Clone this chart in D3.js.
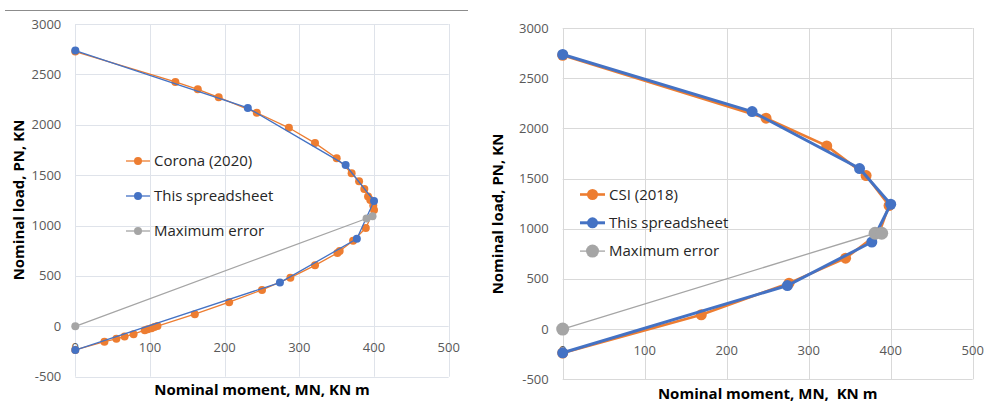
<!DOCTYPE html>
<html>
<head>
<meta charset="utf-8">
<script src="https://cdn.jsdelivr.net/npm/d3@7"></script>
<style>
  body { margin: 0; background: #fff; }
  svg { display: block; }
</style>
</head>
<body>
<div id="chart"></div>
<script>
/* Interaction diagrams — two scatter-with-lines panels (Excel style). */

var xTicks = [0, 100, 200, 300, 400, 500];
var yTicks = [-500, 0, 500, 1000, 1500, 2000, 2500, 3000];

// left panel: [moment, load]
var coronaM = [0, 134, 164, 192, 243, 286, 321, 350, 370, 380, 387, 392, 395, 399, 400, 389, 372, 354, 351, 321, 288, 250, 206, 160, 110, 106, 102, 97, 93, 78, 66, 55, 39, 0];
var coronaP = [2726, 2425, 2352, 2272, 2119, 1970, 1818, 1668, 1518, 1440, 1362, 1287, 1254, 1200, 1155, 975, 850, 748, 728, 605, 483, 361, 240, 120, 2, -8, -18, -28, -38, -78, -102, -124, -152, -235];
var sheetM = [0, 231, 362, 400, 377, 274, 0];
var sheetP = [2736, 2167, 1600, 1244, 868, 434, -236];
var errLeftM = [0, 390, 398];
var errLeftP = [0, 1070, 1092];

// right panel
var csiM = [0, 248, 322, 370, 398, 386, 345, 276, 169, 0];
var csiP = [2728, 2101, 1825, 1530, 1231, 960, 707, 458, 143, -239];
var errRightM = [0, 381, 389];
var errRightP = [0, 955, 955];

var legendLeft = ["Corona (2020)", "This spreadsheet", "Maximum error"];
var legendRight = ["CSI (2018)", "This spreadsheet", "Maximum error"];

var orange = "#ED7D31", blue = "#4472C4", grey = "#A5A5A5";

function zip(xs, ys) { return xs.map(function (v, i) { return [v, ys[i]]; }); }

var svg = d3.select("#chart").append("svg").attr("width", 984).attr("height", 403);

// thin rule across the top of the left figure
svg.append("line").attr("x1", 5).attr("x2", 468).attr("y1", 10.5).attr("y2", 10.5)
  .attr("stroke", "#8c8c8c").attr("stroke-width", 1);

function panel(o) {
  var x = d3.scaleLinear().domain([0, 500]).range(o.xr);
  var y = d3.scaleLinear().domain([-500, 3000]).range(o.yr);
  var g = svg.append("g");

  g.selectAll("line.vg").data(xTicks).enter().append("line")
    .attr("x1", function (d) { return Math.round(x(d)) + 0.5; })
    .attr("x2", function (d) { return Math.round(x(d)) + 0.5; })
    .attr("y1", y(3000)).attr("y2", y(-500))
    .attr("stroke", o.grid).attr("stroke-width", 1);
  g.selectAll("line.hg").data(yTicks).enter().append("line")
    .attr("y1", function (d) { return Math.round(y(d)) + 0.5; })
    .attr("y2", function (d) { return Math.round(y(d)) + 0.5; })
    .attr("x1", x(0)).attr("x2", x(500))
    .attr("stroke", o.grid).attr("stroke-width", 1);

  g.selectAll("text.yt").data(yTicks).enter().append("text")
    .attr("x", x(0) - 14).attr("y", function (d) { return y(d); })
    .attr("dy", "0.35em").attr("text-anchor", "end")
    .attr("font-family", "Open Sans").attr("font-size", 13).attr("fill", "#595959")
    .text(function (d) { return d; });
  g.selectAll("text.xt").data(xTicks).enter().append("text")
    .attr("x", function (d) { return x(d); }).attr("y", y(0) + 21)
    .attr("dy", "0.35em").attr("text-anchor", "middle")
    .attr("font-family", "Open Sans").attr("font-size", 13).attr("fill", "#595959")
    .text(function (d) { return d; });

  var line = d3.line().x(function (d) { return x(d[0]); }).y(function (d) { return y(d[1]); });

  o.series.forEach(function (s) {
    g.append("path").datum(s.data).attr("fill", "none")
      .attr("stroke", s.color).attr("stroke-width", s.w).attr("d", line);
    g.selectAll(null).data(s.data).enter().append("circle")
      .attr("cx", function (d) { return x(d[0]); }).attr("cy", function (d) { return y(d[1]); })
      .attr("r", s.r).attr("fill", s.color);
  });

  // legend
  o.series.forEach(function (s, i) {
    var ly = o.legend[1] + i * o.legendGap;
    g.append("line").attr("x1", o.legend[0]).attr("x2", o.legend[0] + o.legendLen)
      .attr("y1", ly).attr("y2", ly).attr("stroke", s.color).attr("stroke-width", s.w);
    g.append("circle").attr("cx", o.legend[0] + o.legendLen / 2).attr("cy", ly)
      .attr("r", s.r).attr("fill", s.color);
    g.append("text").attr("x", o.legend[0] + o.legendLen + 4).attr("y", ly).attr("dy", "0.35em")
      .attr("font-family", "Open Sans").attr("font-size", 15).attr("fill", "#262626")
      .text(s.name);
  });

  g.append("text").attr("x", (x(0) + x(500)) / 2 + o.xtDx).attr("y", o.xtY)
    .attr("text-anchor", "middle").attr("dy", "0.35em")
    .attr("font-family", "Open Sans").attr("font-weight", "bold").attr("font-size", 15)
    .attr("fill", "#000").attr("xml:space", "preserve").text(o.xTitle);
  g.append("text")
    .attr("transform", "translate(" + o.ytX + "," + o.ytY + ") rotate(-90)")
    .attr("text-anchor", "middle").attr("dy", "0.35em")
    .attr("font-family", "Open Sans").attr("font-weight", "bold").attr("font-size", 15)
    .attr("fill", "#000").text(o.yTitle);
}

panel({
  xr: [75.3, 448.7], yr: [376.7, 24], grid: "#dfe3ea",
  series: [
    { name: legendLeft[0], data: zip(coronaM, coronaP), color: orange, w: 1.3, r: 4 },
    { name: legendLeft[1], data: zip(sheetM, sheetP), color: blue, w: 1.3, r: 4 },
    { name: legendLeft[2], data: zip(errLeftM, errLeftP), color: grey, w: 1.3, r: 4 }
  ],
  legend: [126, 161], legendGap: 35, legendLen: 24,
  xTitle: "Nominal moment, MN, KN m", xtY: 390, xtDx: 0,
  yTitle: "Nominal load, PN, KN", ytX: 19, ytY: 200
});

panel({
  xr: [562.7, 972.7], yr: [379.3, 28], grid: "#d9d9d9",
  series: [
    { name: legendRight[0], data: zip(csiM, csiP), color: orange, w: 2.6, r: 5.5 },
    { name: legendRight[1], data: zip(sheetM, sheetP), color: blue, w: 3, r: 5.5 },
    { name: legendRight[2], data: zip(errRightM, errRightP), color: grey, w: 1.3, r: 6.5 }
  ],
  legend: [580, 194.5], legendGap: 28.3, legendLen: 25,
  xTitle: "Nominal moment, MN,  KN m", xtY: 394, xtDx: 0,
  yTitle: "Nominal load, PN, KN", ytX: 498, ytY: 214
});
</script>
</body>
</html>
